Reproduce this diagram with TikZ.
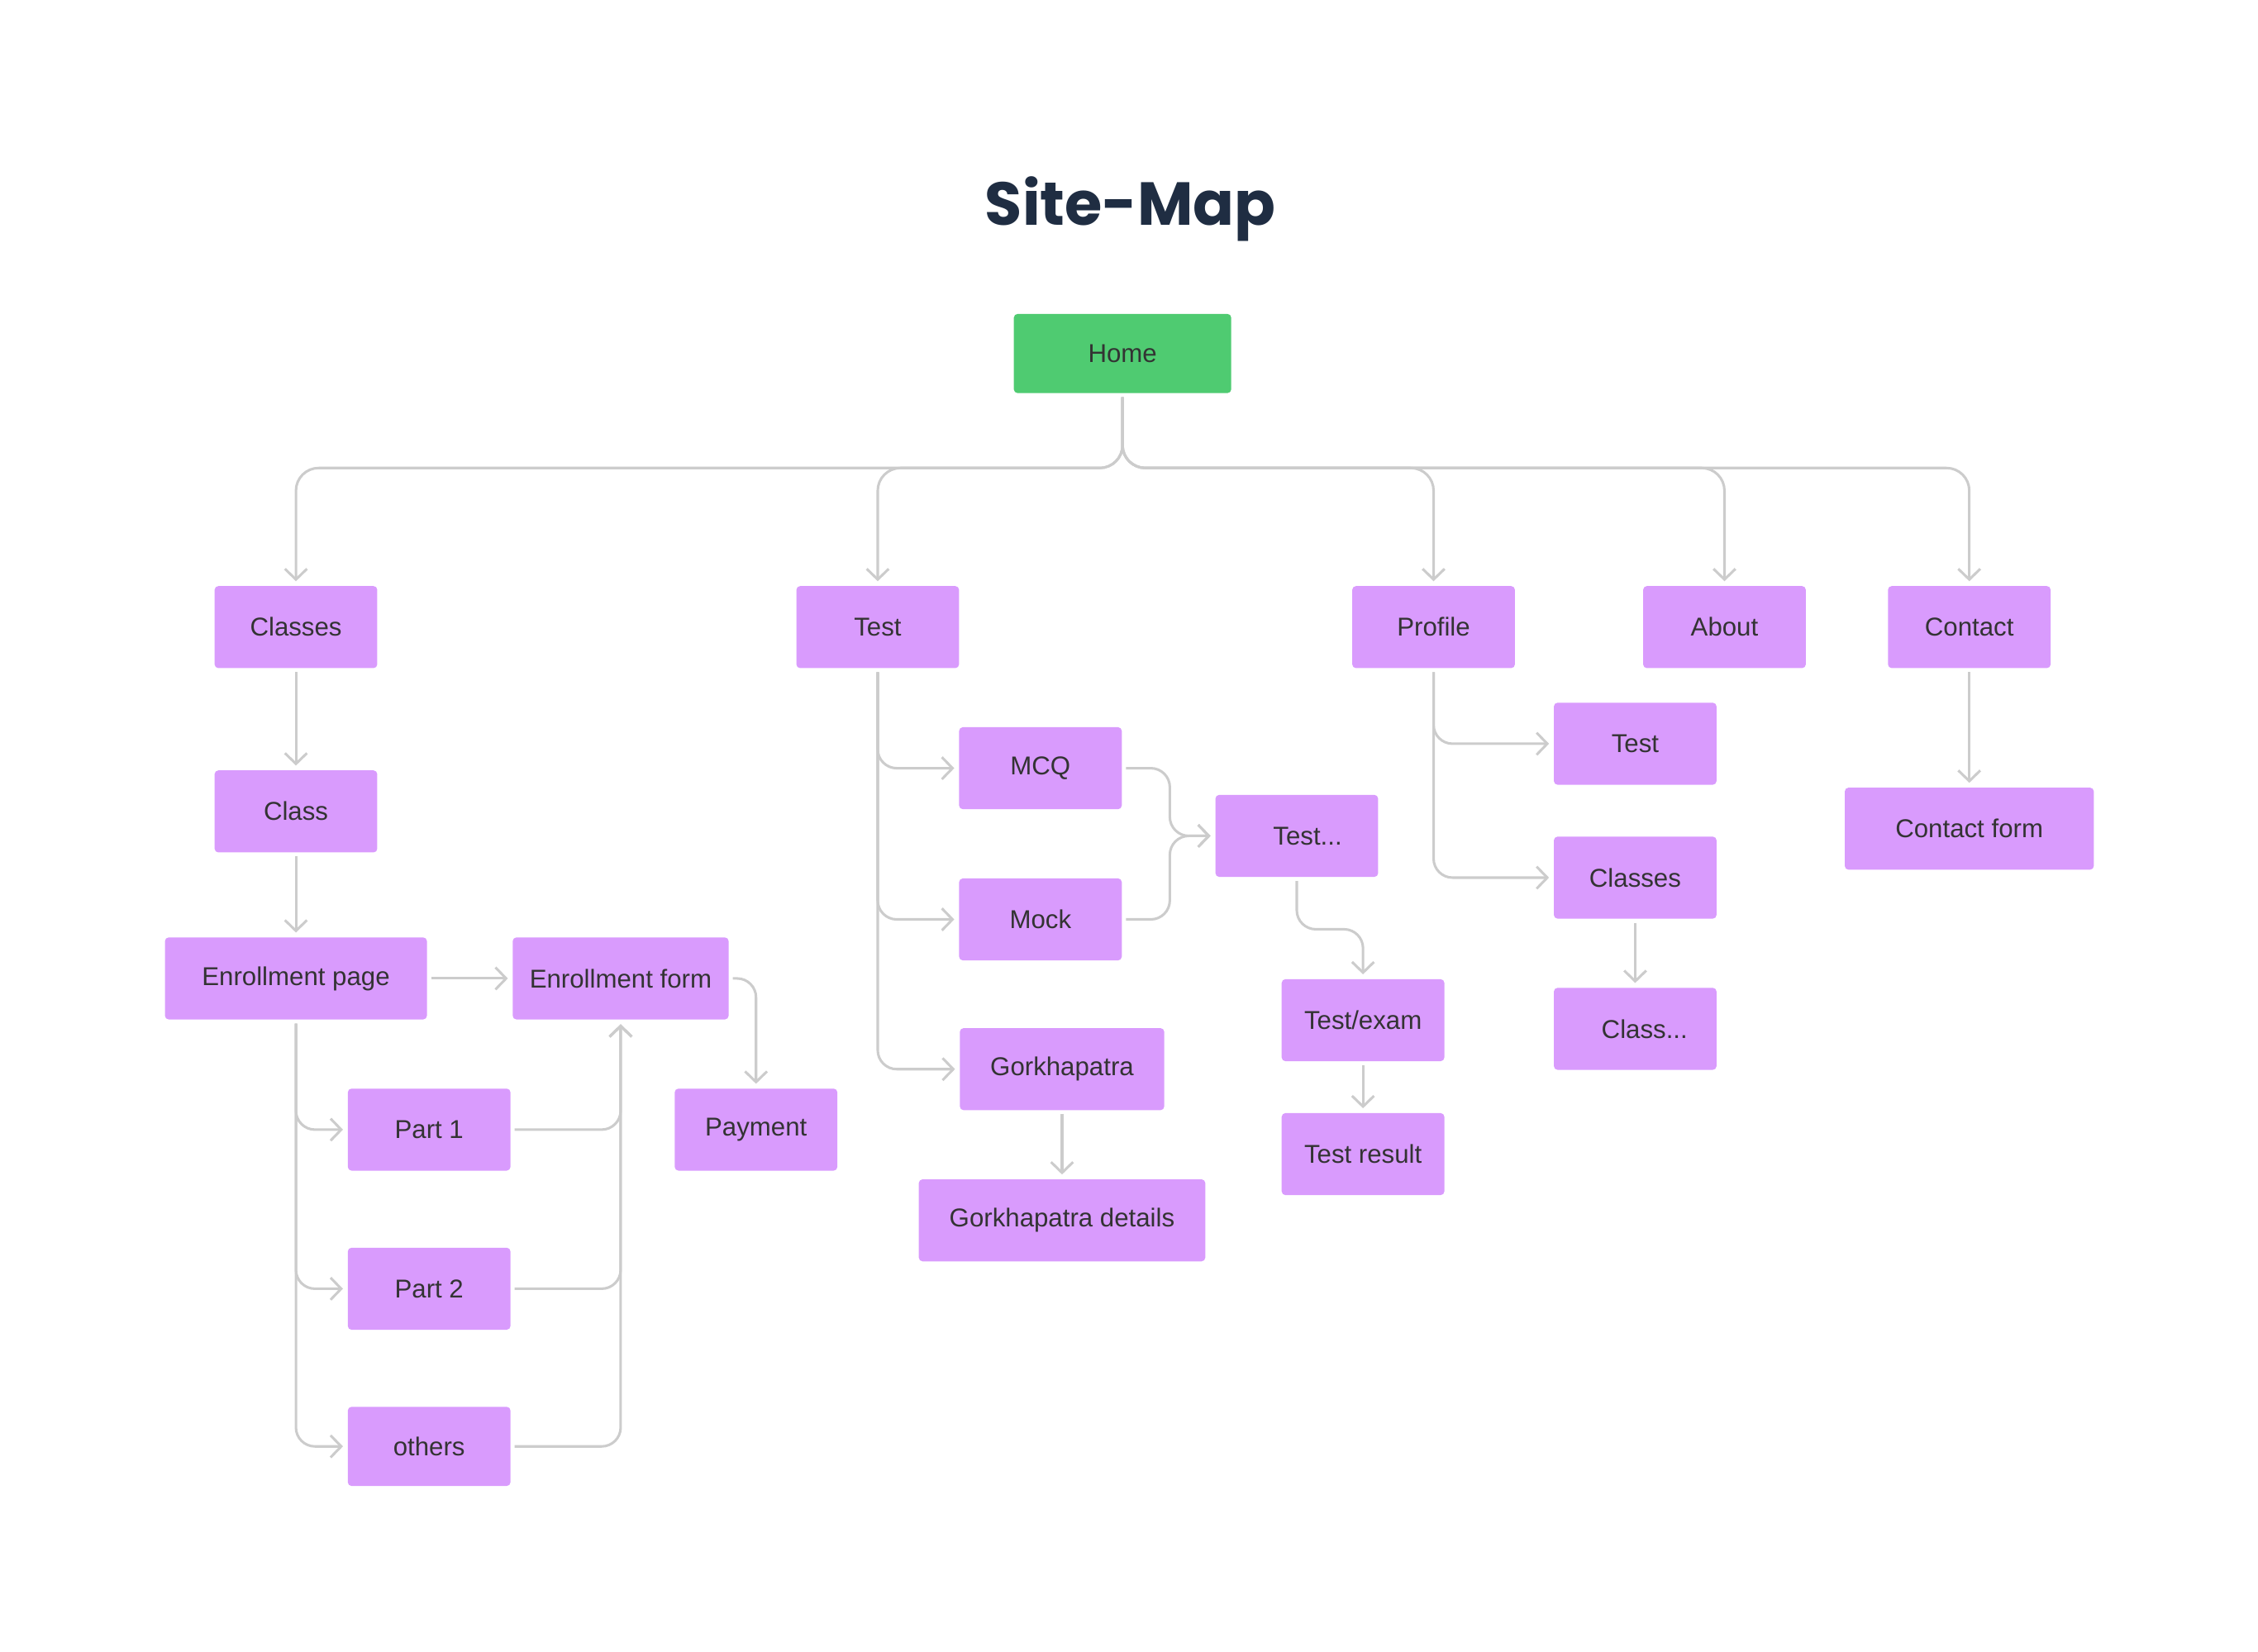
\documentclass[tikz,border=0pt]{standalone}
\usepackage{fontspec}
\setmainfont{Liberation Sans}
\newfontfamily\titlefont{Poppins}
\usetikzlibrary{arrows.meta,calc}

\definecolor{pagepurple}{HTML}{D99BFD}
\definecolor{homegreen}{HTML}{4FCB71}
\definecolor{linkgray}{HTML}{CCCCCC}
\definecolor{labelgray}{HTML}{333333}
\definecolor{titlenavy}{HTML}{1F2D42}

\begin{document}
\begin{tikzpicture}[x=0.02cm, y=-0.02cm,
    page/.style={rectangle, rounded corners=1.5pt, fill=pagepurple, text=labelgray,
        font=\fontsize{10.2}{12}\selectfont, minimum width=2.26cm, minimum height=1.14cm, inner sep=0pt},
    link/.style={draw=linkgray, line width=1pt, rounded corners=7.5pt, shorten <=0.05cm, shorten >=0.06cm,
        -{Straight Barb[length=4.2pt, width=8.7pt]}}]
    \useasboundingbox (0,0) rectangle (1568,1147);

    % Title
    \node[font=\titlefont\bfseries\fontsize{24}{28}\selectfont, text=titlenavy] (title) at (785,145) {Site-Map};

    % Home and the main pages
    \node[page, fill=homegreen, minimum width=3.02cm, minimum height=1.1cm] (home) at (779.5,245.5) {Home};
    \node[page] (classes) at (205.5,435.5) {Classes};
    \node[page] (test) at (609.5,435.5) {Test};
    \node[page] (profile) at (995.5,435.5) {Profile};
    \node[page] (about) at (1197.5,435.5) {About};
    \node[page] (contact) at (1367.5,435.5) {Contact};

    % Classes branch
    \node[page] (class) at (205.5,563.5) {Class};
    \node[page, minimum width=3.64cm] (epage) at (205.5,679.5) {Enrollment page};
    \node[page, minimum width=3cm] (eform) at (431,679.5) {Enrollment form};
    \node[page] (payment) at (525,784.5) {Payment};
    \node[page] (part1) at (298,784.5) {Part 1};
    \node[page] (part2) at (298,895) {Part 2};
    \node[page, minimum height=1.1cm] (others) at (298,1004.5) {others};

    % Test branch
    \node[page] (mcq) at (722.5,533.5) {MCQ};
    \node[page] (mock) at (722.5,638.5) {Mock};
    \node[page, minimum width=2.84cm] (gorkha) at (737.5,742.5) {Gorkhapatra};
    \node[page, minimum width=3.98cm] (gdetails) at (737.5,847.5) {Gorkhapatra details};
    \node[page] (testdots) at (900.5,580.5) {\hspace{0.3cm}Test...};
    \node[page] (testexam) at (946.5,708.5) {Test/exam};
    \node[page] (testresult) at (946.5,801.5) {Test result};

    % Profile and Contact branches
    \node[page] (ptest) at (1135.5,516.5) {Test};
    \node[page] (pclasses) at (1135.5,609.5) {Classes};
    \node[page] (pclassdots) at (1135.5,714.5) {\hspace{0.26cm}Class...};
    \node[page, minimum width=3.46cm] (contactform) at (1367.5,575.5) {Contact form};

    % Links from Home
    \coordinate (bus) at (779.5,325);
    \foreach \n in {classes,test,profile,about,contact}
        \draw[link, rounded corners=9pt] (home.south) -- (home.south |- bus) -| (\n.north);

    % Links in the Classes branch
    \draw[link] (classes.south) -- (class.north);
    \draw[link] (class.south) -- (epage.north);
    \draw[link] (epage.east) -- (eform.west);
    \draw[link] (eform.east) -| (payment.north);
    \foreach \n in {part1,part2,others} {
        \draw[link] (epage.south) |- (\n.west);
        \draw[link] (\n.east) -| (eform.south);
    }

    % Links in the Test branch
    \foreach \n in {mcq,mock,gorkha}
        \draw[link] (test.south) |- (\n.west);
    \draw[link] (mcq.east) -- ++(33,0) |- (testdots.west);
    \draw[link] (mock.east) -- ++(33,0) |- (testdots.west);
    \draw[link] (gorkha.south) -- (gdetails.north);
    \draw[link] (testdots.south) -- ++(0,36) -| (testexam.north);
    \draw[link] (testexam.south) -- (testresult.north);

    % Links in the Profile and Contact branches
    \foreach \n in {ptest,pclasses}
        \draw[link] (profile.south) |- (\n.west);
    \draw[link] (pclasses.south) -- (pclassdots.north);
    \draw[link] (contact.south) -- (contactform.north);
\end{tikzpicture}
\end{document}
